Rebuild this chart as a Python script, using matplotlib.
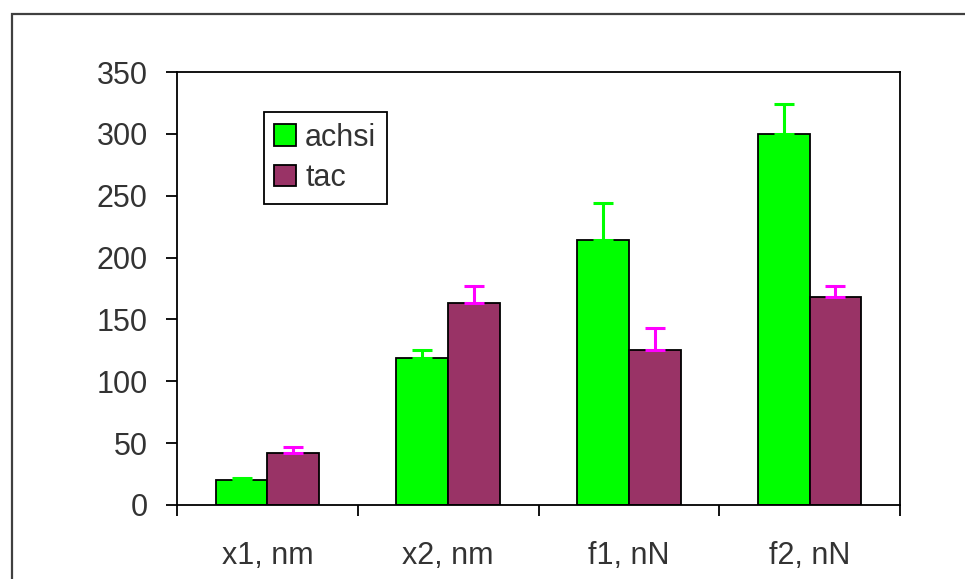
import numpy as np
import matplotlib.pyplot as plt
from matplotlib.patches import Rectangle

# valeurs
categories = ["x1, nm", "x2, nm", "f1, nN", "f2, nN"]
achsi = [20, 119, 214, 300]
achsi_err = [2, 6, 30, 24]
tac = [42, 163, 125, 168]
tac_err = [5, 14, 18, 9]
yticks = [0, 50, 100, 150, 200, 250, 300, 350]

plt.rcParams['font.family'] = ['Liberation Sans', 'DejaVu Sans']

fig = plt.figure(figsize=(9.65, 5.79), dpi=100)
ax = fig.add_axes([177 / 965, 74 / 579, 723 / 965, 433 / 579])

# cadre extérieur (sort de l'image à droite et en bas)
fig.patches.append(Rectangle((12 / 965, -0.1), 1.2, (579 - 14) / 579 + 0.1,
                             transform=fig.transFigure, fill=False,
                             edgecolor='#404040', linewidth=1.6))

x = np.arange(len(categories))
w = 0.286
ax.bar(x - w / 2, achsi, w, color='#00ff00', edgecolor='black', linewidth=1.3, label='achsi', zorder=2)
ax.bar(x + w / 2, tac, w, color='#993366', edgecolor='black', linewidth=1.3, label='tac', zorder=2)

ax.errorbar(x - w / 2, achsi, yerr=[np.zeros(len(achsi)), achsi_err], fmt='none',
            ecolor='#00ff00', elinewidth=2.2, capsize=7, capthick=2.2, zorder=3)
ax.errorbar(x + w / 2, tac, yerr=[np.zeros(len(tac)), tac_err], fmt='none',
            ecolor='#ff00ff', elinewidth=2.2, capsize=7, capthick=2.2, zorder=3)

ax.set_xlim(-0.5, len(categories) - 0.5)
ax.set_ylim(0, 350)
ax.set_yticks(yticks)
ax.set_xticks(x)
ax.set_xticklabels(categories)
ax.set_xticks(np.arange(len(categories) + 1) - 0.5, minor=True)
ax.tick_params(axis='x', which='major', length=0, pad=26, labelsize=22, colors='#333333')
ax.tick_params(axis='x', which='minor', length=8, width=1.3, direction='out')
ax.tick_params(axis='y', length=8, width=1.3, direction='out', pad=13, labelsize=22, labelcolor='#333333')

for s in ax.spines.values():
    s.set_linewidth(1.3)
    s.set_color('black')

leg = ax.legend(loc='upper left', bbox_to_anchor=(0.12, 0.908), borderaxespad=0,
                fontsize=22, fancybox=False, framealpha=1, edgecolor='black',
                handlelength=0.7, handleheight=0.7, handletextpad=0.3,
                labelspacing=0.35, borderpad=0.35)
leg.get_frame().set_linewidth(1.3)
for t in leg.get_texts():
    t.set_color('#333333')

fig.savefig('out.png', dpi=100)
